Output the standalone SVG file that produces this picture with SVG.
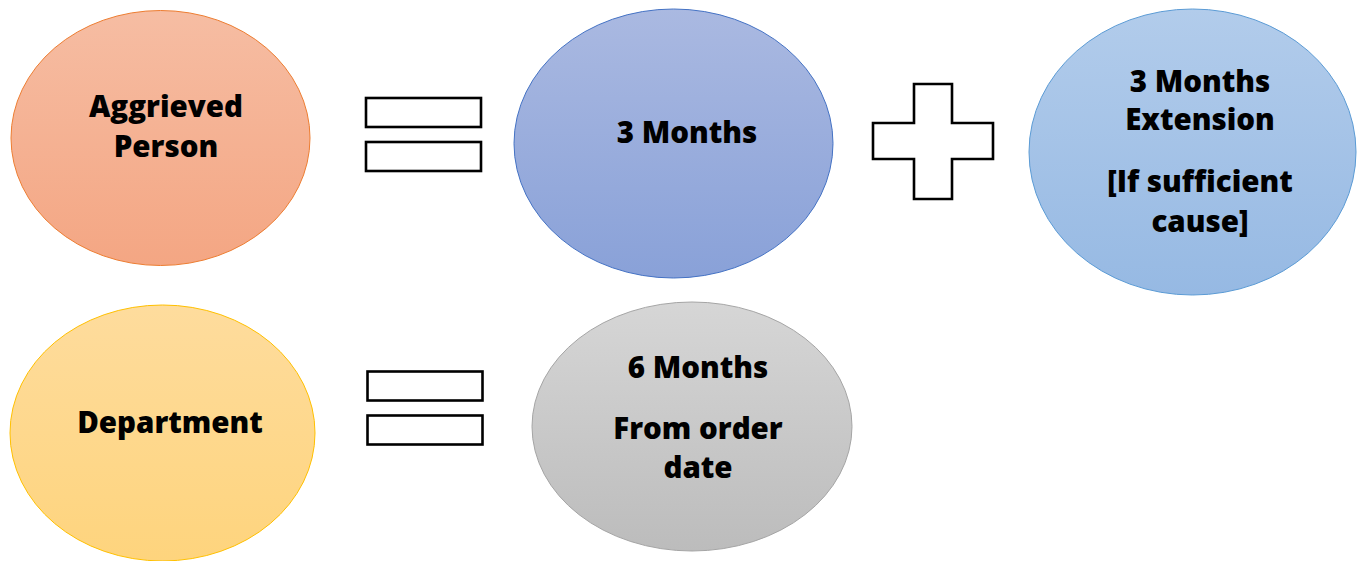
<svg xmlns="http://www.w3.org/2000/svg" width="1362" height="561" viewBox="0 0 1362 561">
  <style>
    .lbl { font-family: "Open Sans", "Liberation Sans", sans-serif; font-weight: 800; font-size: 29.5px; fill: #000; text-anchor: middle; }
    .sym { fill: #fff; stroke: #000; stroke-width: 2.6; }
  </style>
  <defs>
    <linearGradient id="gOrange" x1="0" y1="0" x2="0" y2="1">
      <stop offset="0" stop-color="#F6BDA3"/>
      <stop offset="1" stop-color="#F4A683"/>
    </linearGradient>
    <linearGradient id="gBlue" x1="0" y1="0" x2="0" y2="1">
      <stop offset="0" stop-color="#AAB9E1"/>
      <stop offset="1" stop-color="#89A1D8"/>
    </linearGradient>
    <linearGradient id="gSky" x1="0" y1="0" x2="0" y2="1">
      <stop offset="0" stop-color="#B2CCEB"/>
      <stop offset="1" stop-color="#96B9E3"/>
    </linearGradient>
    <linearGradient id="gYellow" x1="0" y1="0" x2="0" y2="1">
      <stop offset="0" stop-color="#FEDC9D"/>
      <stop offset="1" stop-color="#FED47D"/>
    </linearGradient>
    <linearGradient id="gGrey" x1="0" y1="0" x2="0" y2="1">
      <stop offset="0" stop-color="#D6D6D6"/>
      <stop offset="1" stop-color="#BCBCBC"/>
    </linearGradient>
  </defs>

  <!-- Aggrieved person -->
  <g id="aggrieved">
    <ellipse cx="160.5" cy="138" rx="149.5" ry="127.5" fill="url(#gOrange)" stroke="#ED7D31" stroke-width="1"/>
    <text class="lbl" x="166" y="117">Aggrieved</text>
    <text class="lbl" x="166" y="157">Person</text>
  </g>

  <!-- Equals sign, top row -->
  <g id="equals-top">
    <rect class="sym" x="366" y="98" width="115" height="29"/>
    <rect class="sym" x="366" y="142" width="115" height="29"/>
  </g>

  <!-- 3 months -->
  <g id="three-months">
    <ellipse cx="673.5" cy="143.5" rx="159.5" ry="134.5" fill="url(#gBlue)" stroke="#4472C4" stroke-width="1"/>
    <text class="lbl" x="687" y="143">3 Months</text>
  </g>

  <!-- Plus sign -->
  <g id="plus">
    <path class="sym" d="M914 84 H952 V123 H993 V159 H952 V199 H914 V159 H873 V123 H914 Z"/>
  </g>

  <!-- Extension -->
  <g id="extension">
    <ellipse cx="1192.5" cy="152" rx="163.5" ry="143" fill="url(#gSky)" stroke="#5B9BD5" stroke-width="1"/>
    <text class="lbl" x="1200" y="92">3 Months</text>
    <text class="lbl" x="1200" y="130">Extension</text>
    <text class="lbl" x="1200" y="192">[If sufficient</text>
    <text class="lbl" x="1200" y="232">cause]</text>
  </g>

  <!-- Department -->
  <g id="department">
    <ellipse cx="162.5" cy="433" rx="152.5" ry="128" fill="url(#gYellow)" stroke="#FFC000" stroke-width="1"/>
    <text class="lbl" x="170" y="433">Department</text>
  </g>

  <!-- Equals sign, bottom row -->
  <g id="equals-bottom">
    <rect class="sym" x="367.5" y="371.5" width="115" height="29"/>
    <rect class="sym" x="367.5" y="415.5" width="115" height="29"/>
  </g>

  <!-- 6 months -->
  <g id="six-months">
    <ellipse cx="692" cy="426.5" rx="160" ry="124.5" fill="url(#gGrey)" stroke="#A5A5A5" stroke-width="1"/>
    <text class="lbl" x="698" y="378">6 Months</text>
    <text class="lbl" x="698" y="439">From order</text>
    <text class="lbl" x="698" y="478">date</text>
  </g>

  <!-- no connectors between nodes -->
  <g id="connectors"/>
</svg>
